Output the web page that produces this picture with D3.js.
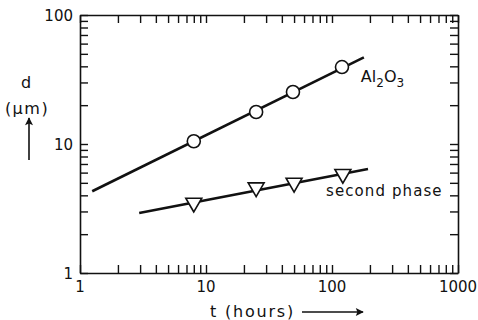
<!DOCTYPE html>
<html>
<head>
<meta charset="utf-8">
<script src="https://d3js.org/d3.v7.min.js"></script>
<style>
  body { margin: 0; background: #fff; }
  text { font-family: "DejaVu Sans", sans-serif; fill: #111; }
</style>
</head>
<body>
<div id="my_dataviz"></div>
<script>
// measured points, t in hours, d in micrometers
var alTimes = [8, 25, 49, 120]
var alSizes = [10.5, 17.7, 25.3, 39.5]
var alLineT = [1.25, 179]
var alLineD = [4.3, 47]

var secTimes = [8, 25, 50, 122]
var secSizes = [3.5, 4.6, 5.0, 5.85]
var secLineT = [2.95, 193]
var secLineD = [2.92, 6.4]

var xTickLabels = [1, 10, 100, 1000]
var yTickLabels = [1, 10, 100]

var width = 478
var height = 320
var margin = { top: 15, right: 20, bottom: 47, left: 80 }

var svg = d3.select("#my_dataviz")
  .append("svg")
  .attr("width", width)
  .attr("height", height)

var x = d3.scaleLog()
  .domain([1, 1000])
  .range([margin.left, width - margin.right])

var y = d3.scaleLog()
  .domain([1, 100])
  .range([height - margin.bottom, margin.top])

var tickLen = 8

// all ticks 1..9 in every decade, drawn inward on all four sides
var xTicks = x.ticks()
var yTicks = y.ticks()

svg.append("g")
  .attr("transform", "translate(0," + y(1) + ")")
  .call(d3.axisBottom(x).tickValues(xTicks).tickSizeInner(-tickLen).tickSizeOuter(0).tickFormat(""))
svg.append("g")
  .attr("transform", "translate(0," + y(100) + ")")
  .call(d3.axisTop(x).tickValues(xTicks).tickSizeInner(-tickLen).tickSizeOuter(0).tickFormat(""))
svg.append("g")
  .attr("transform", "translate(" + x(1) + ",0)")
  .call(d3.axisLeft(y).tickValues(yTicks).tickSizeInner(-tickLen).tickSizeOuter(0).tickFormat(""))
svg.append("g")
  .attr("transform", "translate(" + x(1000) + ",0)")
  .call(d3.axisRight(y).tickValues(yTicks).tickSizeInner(-tickLen).tickSizeOuter(0).tickFormat(""))

svg.selectAll(".domain").attr("stroke", "#111").attr("stroke-width", 1.6)
svg.selectAll(".tick line").attr("stroke", "#111").attr("stroke-width", 1.4)

// tick labels
svg.selectAll(".xlab")
  .data(xTickLabels)
  .enter()
  .append("text")
  .attr("x", d => x(d))
  .attr("y", y(1) + 19)
  .attr("text-anchor", "middle")
  .style("font-size", "15px")
  .text(d => d)

svg.selectAll(".ylab")
  .data(yTickLabels)
  .enter()
  .append("text")
  .attr("x", x(1) - 7)
  .attr("y", d => y(d) + 6)
  .attr("text-anchor", "end")
  .style("font-size", "15px")
  .text(d => d)

// fitted lines
var line = d3.line()
  .x(d => x(d[0]))
  .y(d => y(d[1]))

svg.append("path")
  .datum(d3.zip(alLineT, alLineD))
  .attr("d", line)
  .attr("fill", "none")
  .attr("stroke", "#111")
  .attr("stroke-width", 2.6)

svg.append("path")
  .datum(d3.zip(secLineT, secLineD))
  .attr("d", line)
  .attr("fill", "none")
  .attr("stroke", "#111")
  .attr("stroke-width", 2.6)

// Al2O3 circles
svg.selectAll(".circ")
  .data(d3.zip(alTimes, alSizes))
  .enter()
  .append("circle")
  .attr("cx", d => x(d[0]))
  .attr("cy", d => y(d[1]))
  .attr("r", 6.5)
  .attr("fill", "#fff")
  .attr("stroke", "#111")
  .attr("stroke-width", 1.6)

// second phase triangles (pointing down)
var tri = d3.symbol().type(d3.symbolTriangle).size(110)
svg.selectAll(".tri")
  .data(d3.zip(secTimes, secSizes))
  .enter()
  .append("path")
  .attr("d", tri)
  .attr("transform", d => "translate(" + x(d[0]) + "," + y(d[1]) + ") rotate(180)")
  .attr("fill", "#fff")
  .attr("stroke", "#111")
  .attr("stroke-width", 1.6)

// series labels
var alLabel = svg.append("text")
  .attr("x", x(alLineT[1]) - 3)
  .attr("y", y(alLineD[1]) + 25)
  .style("font-size", "16px")
alLabel.append("tspan").text("Al")
alLabel.append("tspan").attr("dy", 5).style("font-size", "12px").text("2")
alLabel.append("tspan").attr("dy", -5).text("O")
alLabel.append("tspan").attr("dy", 5).style("font-size", "12px").text("3")

svg.append("text")
  .attr("x", x(secLineT[1]) - 42)
  .attr("y", y(secLineD[1]) + 27)
  .style("font-size", "15px")
  .style("letter-spacing", "1.1px")
  .text("second phase")

// axis titles
svg.append("text")
  .attr("x", 26)
  .attr("y", 88)
  .attr("text-anchor", "middle")
  .style("font-size", "16px")
  .text("d")
svg.append("text")
  .attr("x", 27)
  .attr("y", 114)
  .attr("text-anchor", "middle")
  .style("font-size", "16px")
  .style("letter-spacing", "1.5px")
  .text("(\u03bcm)")

var arrowHead = svg.append("defs").append("marker")
  .attr("id", "head")
  .attr("viewBox", "0 0 10 10")
  .attr("refX", 9)
  .attr("refY", 5)
  .attr("markerWidth", 7)
  .attr("markerHeight", 5)
  .attr("orient", "auto")
arrowHead.append("path").attr("d", "M0,0L10,5L0,10L2,5Z").attr("fill", "#111")

svg.append("line")
  .attr("x1", 29).attr("y1", 160)
  .attr("x2", 29).attr("y2", 118)
  .attr("stroke", "#111")
  .attr("stroke-width", 1.6)
  .attr("marker-end", "url(#head)")

svg.append("text")
  .attr("x", 210)
  .attr("y", 317)
  .style("font-size", "16px")
  .style("letter-spacing", "1.8px")
  .text("t  (hours)")

svg.append("line")
  .attr("x1", 302).attr("y1", 312)
  .attr("x2", 363).attr("y2", 312)
  .attr("stroke", "#111")
  .attr("stroke-width", 1.6)
  .attr("marker-end", "url(#head)")
</script>
</body>
</html>
